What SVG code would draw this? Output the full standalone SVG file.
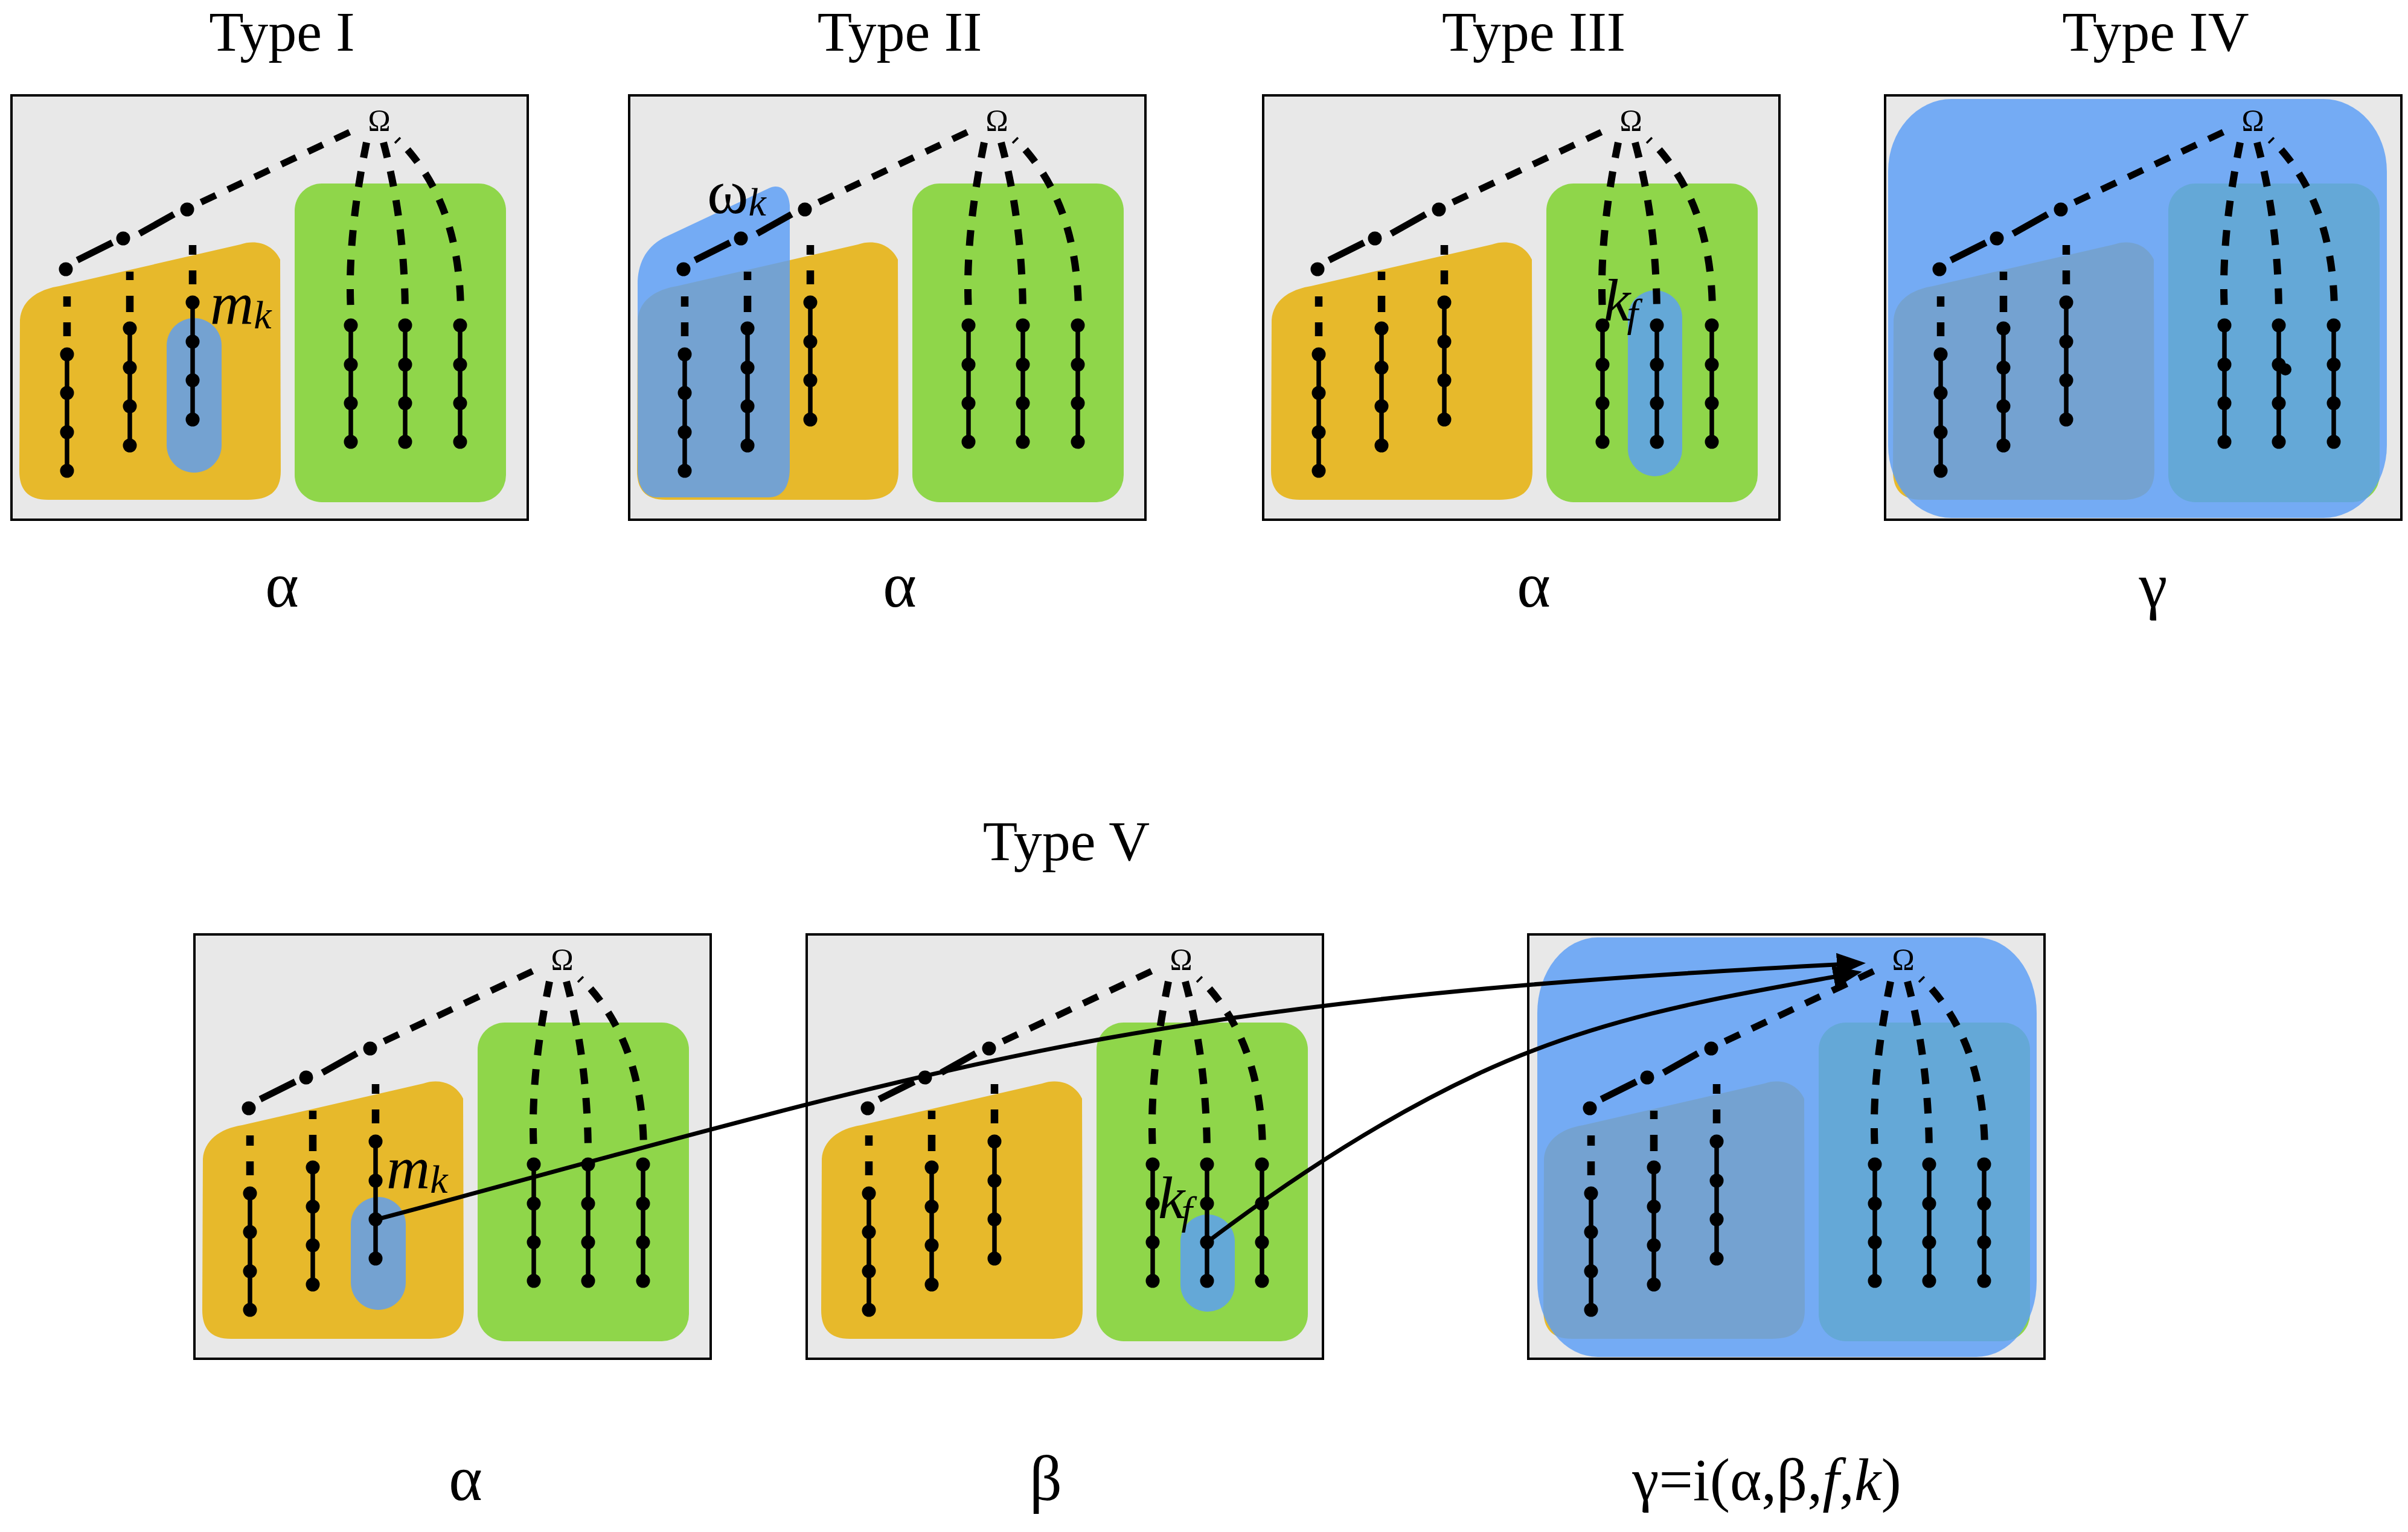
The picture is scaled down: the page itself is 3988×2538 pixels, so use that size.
<svg xmlns="http://www.w3.org/2000/svg" width="3988" height="2538" viewBox="0 0 3988 2538">
<style>
.box{fill:#e8e8e8;stroke:#000;stroke-width:4}
.org{fill:#e7b92b}
.grn{fill:#8fd64a}
.blu{fill:#5a9ef6;fill-opacity:0.82}
.ln{stroke:#000;stroke-width:7.5;fill:none}
.dg{stroke:#000;stroke-width:11;fill:none}
.vd{stroke:#000;stroke-width:12.5;fill:none}
.cv{stroke:#000;stroke-width:12;fill:none;stroke-dasharray:26 23}
.nd{fill:#000}
.t{font-family:"Liberation Serif","Times New Roman",serif;fill:#000}
.ttl{font-size:94px;text-anchor:middle}
.lbl{font-size:106px;text-anchor:middle}
.it{font-style:italic}
.conn{stroke:#000;stroke-width:7;fill:none}
</style>
<defs>
<marker id="arr" markerUnits="userSpaceOnUse" markerWidth="48" markerHeight="38" viewBox="0 0 48 38" refX="36" refY="19" orient="auto">
<path d="M0,0 L48,19 L0,38 Z" fill="#000"/>
</marker>
<g id="regions">
<path class="org" d="M98 474 L398 405 C425 396 452 405 464 430 L465 780 C465 815 445 828 410 828 L80 828 C45 828 32 810 32 780 L33 530 C35 500 60 480 98 474 Z"/>
<rect class="grn" x="488" y="304" width="350" height="528" rx="45" ry="45"/>
</g>
<g id="graph">
<line class="dg" x1="128" y1="431" x2="186" y2="402" stroke-width="9"/>
<line class="dg" x1="231" y1="387" x2="288" y2="355" stroke-width="9"/>
<line class="dg" x1="333" y1="335" x2="585" y2="216" stroke-dasharray="27 22"/>
<line class="vd" x1="111" y1="491" x2="111" y2="508"/>
<line class="vd" x1="111" y1="534" x2="111" y2="557"/>
<line class="vd" x1="215" y1="450" x2="215" y2="464"/>
<line class="vd" x1="215" y1="490" x2="215" y2="517"/>
<line class="vd" x1="319" y1="406" x2="319" y2="422"/>
<line class="vd" x1="319" y1="448" x2="319" y2="471"/>
<line class="ln" x1="111" y1="587" x2="111" y2="780"/>
<line class="ln" x1="215" y1="544" x2="215" y2="738"/>
<line class="ln" x1="319" y1="501" x2="319" y2="695"/>
<line class="ln" x1="581" y1="539" x2="581" y2="732"/>
<line class="ln" x1="671" y1="539" x2="671" y2="732"/>
<line class="ln" x1="762" y1="539" x2="762" y2="732"/>
<path class="cv" d="M607 236 C590 320 576 420 581 515"/>
<path class="cv" d="M635 236 C655 310 670 400 671 515"/>
<path class="cv" d="M675 248 C720 300 762 380 763 515"/>
<line x1="654" y1="237" x2="663" y2="228" stroke="#000" stroke-width="3.5"/>
<g class="nd">
<circle cx="109" cy="446" r="11.5"/><circle cx="204" cy="395" r="11.5"/><circle cx="310" cy="347" r="11.5"/>
<circle cx="111" cy="587" r="11.5"/><circle cx="111" cy="651" r="11.5"/><circle cx="111" cy="716" r="11.5"/><circle cx="111" cy="780" r="11.5"/>
<circle cx="215" cy="544" r="11.5"/><circle cx="215" cy="609" r="11.5"/><circle cx="215" cy="673" r="11.5"/><circle cx="215" cy="738" r="11.5"/>
<circle cx="319" cy="501" r="11.5"/><circle cx="319" cy="566" r="11.5"/><circle cx="319" cy="630" r="11.5"/><circle cx="319" cy="695" r="11.5"/>
<circle cx="581" cy="539" r="11.5"/><circle cx="581" cy="604" r="11.5"/><circle cx="581" cy="668" r="11.5"/><circle cx="581" cy="732" r="11.5"/>
<circle cx="671" cy="539" r="11.5"/><circle cx="671" cy="604" r="11.5"/><circle cx="671" cy="668" r="11.5"/><circle cx="671" cy="732" r="11.5"/>
<circle cx="762" cy="539" r="11.5"/><circle cx="762" cy="604" r="11.5"/><circle cx="762" cy="668" r="11.5"/><circle cx="762" cy="732" r="11.5"/>
</g>
<text class="t" x="628" y="216" font-size="50" text-anchor="middle">Ω</text>
</g>
</defs>
<rect width="3988" height="2538" fill="#fff"/>

<g id="panel-type1">
<text class="t ttl" x="467" y="84">Type I</text>
<rect class="box" x="19" y="158" width="855" height="703"/>
<use href="#regions"/>
<rect class="blu" x="276" y="527" width="91" height="256" rx="45.5" ry="45.5"/>
<use href="#graph"/>
<text class="t it" x="348" y="536" font-size="100">m<tspan font-size="66" dy="8">k</tspan></text>
<text class="t lbl" x="467" y="1005">α</text>
</g>

<g id="panel-type2" transform="translate(1023,0)">
<text class="t ttl" x="467" y="84">Type II</text>
<rect class="box" x="19" y="158" width="855" height="703"/>
<use href="#regions"/>
<path class="blu" d="M76 394 L250 312 C268 303 283 315 285 340 L285 775 C285 810 270 824 250 824 L65 824 C45 824 33 805 33 780 L33 470 C33 440 45 410 76 394 Z"/>
<use href="#graph"/>
<text class="t" x="148" y="353" font-size="104">ω<tspan class="it" font-size="66" dy="4">k</tspan></text>
<text class="t lbl" x="467" y="1005">α</text>
</g>

<g id="panel-type3" transform="translate(2073,0)">
<text class="t ttl" x="467" y="84">Type III</text>
<rect class="box" x="19" y="158" width="855" height="703"/>
<use href="#regions"/>
<rect class="blu" x="623" y="481" width="90" height="308" rx="45" ry="45"/>
<use href="#graph"/>
<text class="t it" x="583" y="531" font-size="100">k<tspan font-size="66" dx="-6" dy="10">f</tspan></text>
<text class="t lbl" x="467" y="1005">α</text>
</g>

<g id="panel-type4" transform="translate(3103,0)">
<text class="t ttl" x="467" y="84">Type IV</text>
<rect class="box" x="19" y="158" width="855" height="703"/>
<use href="#regions"/>
<rect class="blu" x="24" y="164" width="826" height="694" rx="105" ry="120"/>
<use href="#graph"/>
<circle class="nd" cx="682" cy="612" r="10"/>
<text class="t lbl" x="463" y="1005">γ</text>
</g>

<g id="title-type5">
<text class="t ttl" x="1766" y="1425">Type V</text>
</g>

<g id="panel-type5-alpha" transform="translate(303,1390)">
<rect class="box" x="19" y="158" width="855" height="703"/>
<use href="#regions"/>
<rect class="blu" x="278" y="593" width="91" height="187" rx="45.5" ry="45.5"/>
<use href="#graph"/>
<text class="t it" x="337" y="578" font-size="100">m<tspan font-size="66" dy="8">k</tspan></text>
<text class="t lbl" x="468" y="1095">α</text>
</g>

<g id="panel-type5-beta" transform="translate(1328,1390)">
<rect class="box" x="8" y="158" width="855" height="703"/>
<use href="#regions"/>
<rect class="blu" x="627" y="622" width="90" height="161" rx="45" ry="45"/>
<use href="#graph"/>
<text class="t it" x="590" y="628" font-size="100">k<tspan font-size="66" dx="-6" dy="10">f</tspan></text>
<text class="t lbl" x="404" y="1095">β</text>
</g>

<g id="panel-type5-gamma" transform="translate(2524,1390)">
<rect class="box" x="7" y="158" width="855" height="703"/>
<use href="#regions"/>
<rect class="blu" x="22" y="163" width="827" height="695" rx="100" ry="125"/>
<use href="#graph"/>
<text class="t" x="402" y="1095" font-size="100" text-anchor="middle">γ=i(α,β,<tspan class="it">f</tspan>,<tspan class="it">k</tspan>)</text>
</g>

<g id="connectors">
<path class="conn" marker-end="url(#arr)" d="M624 2020 C1033 1912 1427 1794 1827 1721 C2247 1645 2688 1616 3078 1596"/>
<path class="conn" marker-end="url(#arr)" d="M1999 2058 C2149 1944 2300 1848 2450 1778 C2660 1680 2875 1648 3072 1612"/>
</g>
</svg>
